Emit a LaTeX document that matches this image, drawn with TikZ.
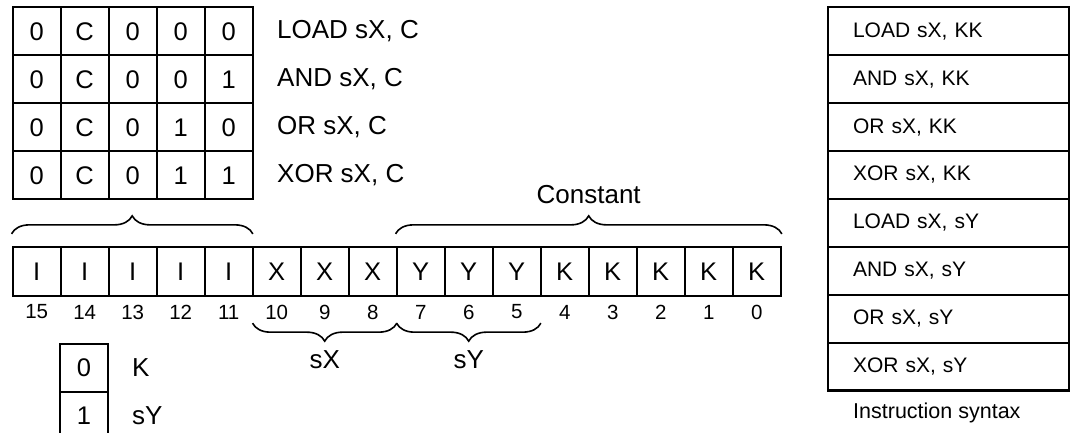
\documentclass[tikz,border=0pt]{standalone}
\usepackage{fontspec}
\setmainfont{Liberation Sans}
\usetikzlibrary{decorations.pathreplacing}
\begin{document}
\begin{tikzpicture}[x=1pt,y=-1pt,
  cell/.style={draw,line width=2.3pt,minimum width=48pt,minimum height=48pt,inner sep=0pt,font=\fontsize{25.5}{30}\selectfont},
  bitcell/.style={cell,minimum height=49pt},
  lbl/.style={anchor=west,inner sep=0pt,font=\fontsize{26}{30}\selectfont},
  ctr/.style={inner sep=0pt,font=\fontsize{26}{30}\selectfont},
  num/.style={inner sep=0pt,font=\fontsize{20.5}{24}\selectfont},
  brc/.style={decorate,decoration={brace,amplitude=18pt},line width=1.6pt},
  syn/.style={draw,line width=2.2pt,minimum width=241pt,minimum height=47.9pt,text width=191.6pt,align=left,inner xsep=24.7pt,inner ysep=0pt,font=\fontsize{21}{25}\selectfont}]
\useasboundingbox (0,0) rectangle (1073,432);
% top table
\foreach \rowtxt [count=\j from 0] in {{0,C,0,0,0},{0,C,0,0,1},{0,C,0,1,0},{0,C,0,1,1}} {
  \foreach \v [count=\i from 0] in \rowtxt {
    \node[cell] (t\j\i) at ({36.7+48*\i},{31.3+48*\j}) {\v};
  }
}
\foreach \t [count=\j from 0] in {{LOAD sX, C},{AND sX, C},{OR sX, C},{XOR sX, C}} {
  \node[lbl] (op\j) at (277,{31.3+48*\j}) {\t};
}
% bit row
\foreach \v/\n [count=\i from 0] in {I/15,I/14,I/13,I/12,I/11,X/10,X/9,X/8,Y/7,Y/6,Y/5,K/4,K/3,K/2,K/1,K/0} {
  \node[bitcell] (b\i) at ({36.7+48*\i},271.5) {\v};
  \node[num] (n\i) at ({36.7+48*\i},312) {\n};
}
% braces
\draw[brc] ([yshift=12pt]b0.north west) -- ([xshift=-1pt,yshift=12pt]b4.north east);
\draw[brc] ([yshift=12pt]b8.north west) -- ([yshift=12pt]b15.north east);
\node[ctr] (const) at (588.7,195) {Constant};
\draw[brc] ([xshift=-1pt,yshift=-26pt]b7.south east) -- ([xshift=1pt,yshift=-26pt]b5.south west);
\draw[brc] ([xshift=-1pt,yshift=-26pt]b10.south east) -- ([xshift=1pt,yshift=-26pt]b8.south west);
\node[ctr] (sx) at (324.7,360) {sX};
\node[ctr] (sy) at (468.7,360) {sY};
% legend
\node[cell] (k0) at (84,368) {0};
\node[cell] (k1) at (84,416) {1};
\node[lbl] (kl0) at (132,368) {K};
\node[lbl] (kl1) at (132,416) {sY};
% instruction syntax table
\foreach \t [count=\j from 0] in {{LOAD sX, KK},{AND sX, KK},{OR sX, KK},{XOR sX, KK},{LOAD sX, sY},{AND sX, sY},{OR sX, sY},{XOR sX, sY}} {
  \node[syn] (s\j) at (948.8,{31.25+47.9*\j}) {\t};
}
\node[anchor=base west,inner sep=0pt,font=\fontsize{21.5}{25}\selectfont] (cap) at (853,418) {Instruction syntax};
\end{tikzpicture}
\end{document}
